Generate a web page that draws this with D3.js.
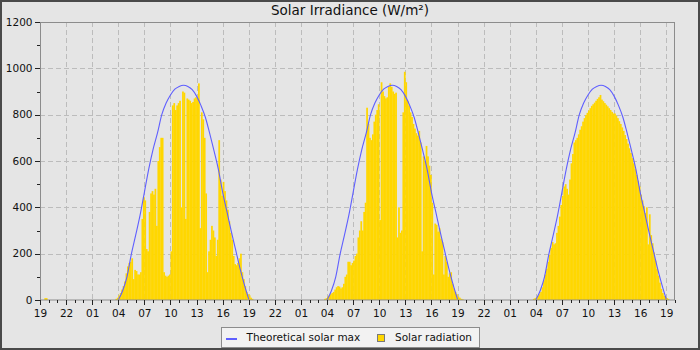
<!DOCTYPE html>
<html><head><meta charset="utf-8">
<script src="https://cdn.jsdelivr.net/npm/d3@7"></script>
<style>
html,body{margin:0;padding:0;background:#e5e5e5;}
svg{display:block;font-family:"DejaVu Sans",sans-serif;}
</style></head><body>
<svg id="chart" width="700" height="350"></svg>
<script>
const chartTitle = "Solar Irradiance (W/m²)";
const seriesNames = ["Theoretical solar max", "Solar radiation"];
const yTicks = [0, 200, 400, 600, 800, 1000, 1200];
const yMinorTicks = [100, 300, 500, 700, 900, 1100];
const windowStart = "2024-06-01T19:00Z";
const windowEnd = "2024-06-04T20:00Z";
const stepMinutes = 10;          // solar radiation sample interval
const theoStepMinutes = 30;      // theoretical max sample interval

// Solar radiation, 10-minute samples, first sample time per day
const radStarts = ["2024-06-01T19:30Z", "2024-06-02T03:40Z", "2024-06-03T03:40Z", "2024-06-04T03:40Z"];
const radDay0 = [8, 8];
const radDay1 = [5,10,20,30,45,60,80,115,145,160,165,180,90,130,125,110,110,120,350,445,
  430,220,210,380,460,470,455,480,320,600,660,700,700,120,105,100,105,110,210,840,
  850,820,840,850,860,400,900,895,350,870,865,860,850,855,870,875,870,935,310,810,
  780,700,460,120,210,260,320,300,270,190,260,690,520,450,510,470,430,390,340,290,
  260,190,155,150,160,180,200,120,90,60,35,25,20,10,5];
const radDay2 = [5,8,15,20,25,30,35,45,55,60,58,50,55,70,100,110,165,165,150,160,
  170,190,200,270,300,340,300,380,420,830,760,700,690,715,770,800,820,845,345,940,
  900,880,870,875,920,935,920,900,890,895,270,400,290,300,810,985,940,860,840,810,
  790,760,740,720,710,730,680,210,620,600,665,620,580,540,420,110,330,325,295,310,
  265,250,110,190,165,100,115,120,70,50,35,25,15,10,5,3];
const radDay3 = [5,8,12,18,25,35,55,85,110,135,165,195,225,250,240,245,290,320,360,410,
  450,490,500,480,455,520,590,630,680,690,700,715,735,750,770,785,798,808,818,828,
  838,845,852,860,868,875,885,865,858,850,843,836,828,820,812,805,805,795,785,772,
  760,745,730,712,695,675,655,635,612,590,565,540,515,490,455,430,405,375,400,240,
  370,280,245,205,170,135,105,75,48,30,18,12,8,5];
const radSeries = [radDay0, radDay1, radDay2, radDay3];

// Theoretical solar max, 30-minute samples from 04:00 to 19:00
const theoStarts = ["2024-06-02T04:00Z", "2024-06-03T04:00Z", "2024-06-04T04:00Z"];
const theoMax = [0,40,100,198,280,365,465,565,650,720,800,850,885,910,922,927,
  922,908,880,840,790,720,645,565,465,380,295,215,135,65,3];

const svg = d3.select("#chart");
const W = 700, H = 350;
const x = d3.scaleUtc().domain([new Date(windowStart), new Date(windowEnd)]).range([40, 675]);
const y = d3.scaleLinear().domain([0, 1200]).range([300, 22]);
const crisp = v => Math.round(v) + 0.5;

svg.append("rect").attr("width", W).attr("height", H).attr("fill", "#e5e5e5");
svg.append("rect").attr("x", 1).attr("y", 1).attr("width", W - 2).attr("height", H - 2)
  .attr("fill", "none").attr("stroke", "#4a4a4a").attr("stroke-width", 2);

svg.append("text").attr("x", 350).attr("y", 15).attr("text-anchor", "middle")
  .attr("font-size", "13.5px").attr("fill", "#111").text(chartTitle);

const t0 = new Date(windowStart), t1 = new Date(windowEnd);
const majorX = d3.utcHour.range(t0, new Date(+t1 + 1), 3);
const minorX = d3.utcHour.range(t0, new Date(+t1 + 1));

// grid
const grid = svg.append("g").attr("stroke", "#bcbcbc").attr("stroke-dasharray", "5,3").attr("fill", "none");
grid.selectAll("line.v").data(majorX.filter(d => +d > +t0)).join("line").attr("class", "v")
  .attr("x1", d => crisp(x(d))).attr("x2", d => crisp(x(d)))
  .attr("y1", y(1200)).attr("y2", y(0));
grid.selectAll("line.h").data(yTicks.filter(d => d > 0 && d < 1200)).join("line").attr("class", "h")
  .attr("y1", d => crisp(y(d))).attr("y2", d => crisp(y(d)))
  .attr("x1", 40).attr("x2", 675);

// bars
const stepMs = stepMinutes * 60000;
const barData = [];
radSeries.forEach((arr, k) => {
  const s = +new Date(radStarts[k]);
  arr.forEach((v, i) => barData.push({t: new Date(s + i * stepMs), v}));
});
svg.append("g").selectAll("rect").data(barData).join("rect")
  .attr("x", d => x(d.t))
  .attr("width", d => x(new Date(+d.t + stepMs)) - x(d.t) + 0.3)
  .attr("y", d => y(d.v))
  .attr("height", d => y(0) - y(d.v))
  .attr("fill", "#ffd700");

// theoretical line
const theoMs = theoStepMinutes * 60000;
const line = d3.line().x(d => x(d.t)).y(d => y(d.v)).curve(d3.curveMonotoneX);
theoStarts.forEach(st => {
  const s = +new Date(st);
  const pts = theoMax.map((v, i) => ({t: new Date(s + i * theoMs), v}));
  svg.append("path").datum(pts).attr("d", line)
    .attr("fill", "none").attr("stroke", "#5f5fff").attr("stroke-width", 1.1);
});

// plot frame
svg.append("rect").attr("x", 40.5).attr("y", 22.5).attr("width", 634).attr("height", 277.5)
  .attr("fill", "none").attr("stroke", "#8c8c8c");

// y axis ticks + labels
const ax = svg.append("g").attr("stroke", "#222");
ax.selectAll("line.ym").data(yTicks).join("line").attr("class", "ym")
  .attr("x1", 35).attr("x2", 40).attr("y1", d => crisp(y(d))).attr("y2", d => crisp(y(d)));
ax.selectAll("line.yn").data(yMinorTicks).join("line").attr("class", "yn")
  .attr("x1", 37).attr("x2", 40).attr("y1", d => crisp(y(d))).attr("y2", d => crisp(y(d)));
svg.append("g").selectAll("text").data(yTicks).join("text")
  .attr("x", 32.5).attr("y", d => y(d) + 3.6).attr("text-anchor", "end")
  .attr("font-size", "10.5px").attr("fill", "#111").text(d => d);

// x axis ticks + labels
ax.selectAll("line.xn").data(minorX).join("line").attr("class", "xn")
  .attr("x1", d => crisp(x(d))).attr("x2", d => crisp(x(d))).attr("y1", 300).attr("y2", 303);
ax.selectAll("line.xm").data(majorX).join("line").attr("class", "xm")
  .attr("x1", d => crisp(x(d))).attr("x2", d => crisp(x(d))).attr("y1", 300).attr("y2", 305);
const fmt = d3.utcFormat("%H");
svg.append("g").selectAll("text").data(majorX).join("text")
  .attr("x", d => x(d) + 0.5).attr("y", 316.5).attr("text-anchor", "middle")
  .attr("font-size", "10.5px").attr("fill", "#111").text(d => fmt(d));

// legend
const lg = svg.append("g");
lg.append("rect").attr("x", 221.5).attr("y", 327.5).attr("width", 258).attr("height", 20)
  .attr("fill", "#f2f2f2").attr("stroke", "#8c8c8c");
lg.append("line").attr("x1", 226).attr("x2", 237).attr("y1", 339).attr("y2", 339)
  .attr("stroke", "#5f5fff").attr("stroke-width", 2);
lg.append("text").attr("x", 246.5).attr("y", 340.5).attr("font-size", "10.5px").attr("fill", "#111").text(seriesNames[0]);
lg.append("rect").attr("x", 377.5).attr("y", 334.5).attr("width", 7).attr("height", 7)
  .attr("fill", "#ffd700").attr("stroke", "#7a7a7a");
lg.append("text").attr("x", 395).attr("y", 340.5).attr("font-size", "10.5px").attr("fill", "#111").text(seriesNames[1]);
</script>
</body></html>
